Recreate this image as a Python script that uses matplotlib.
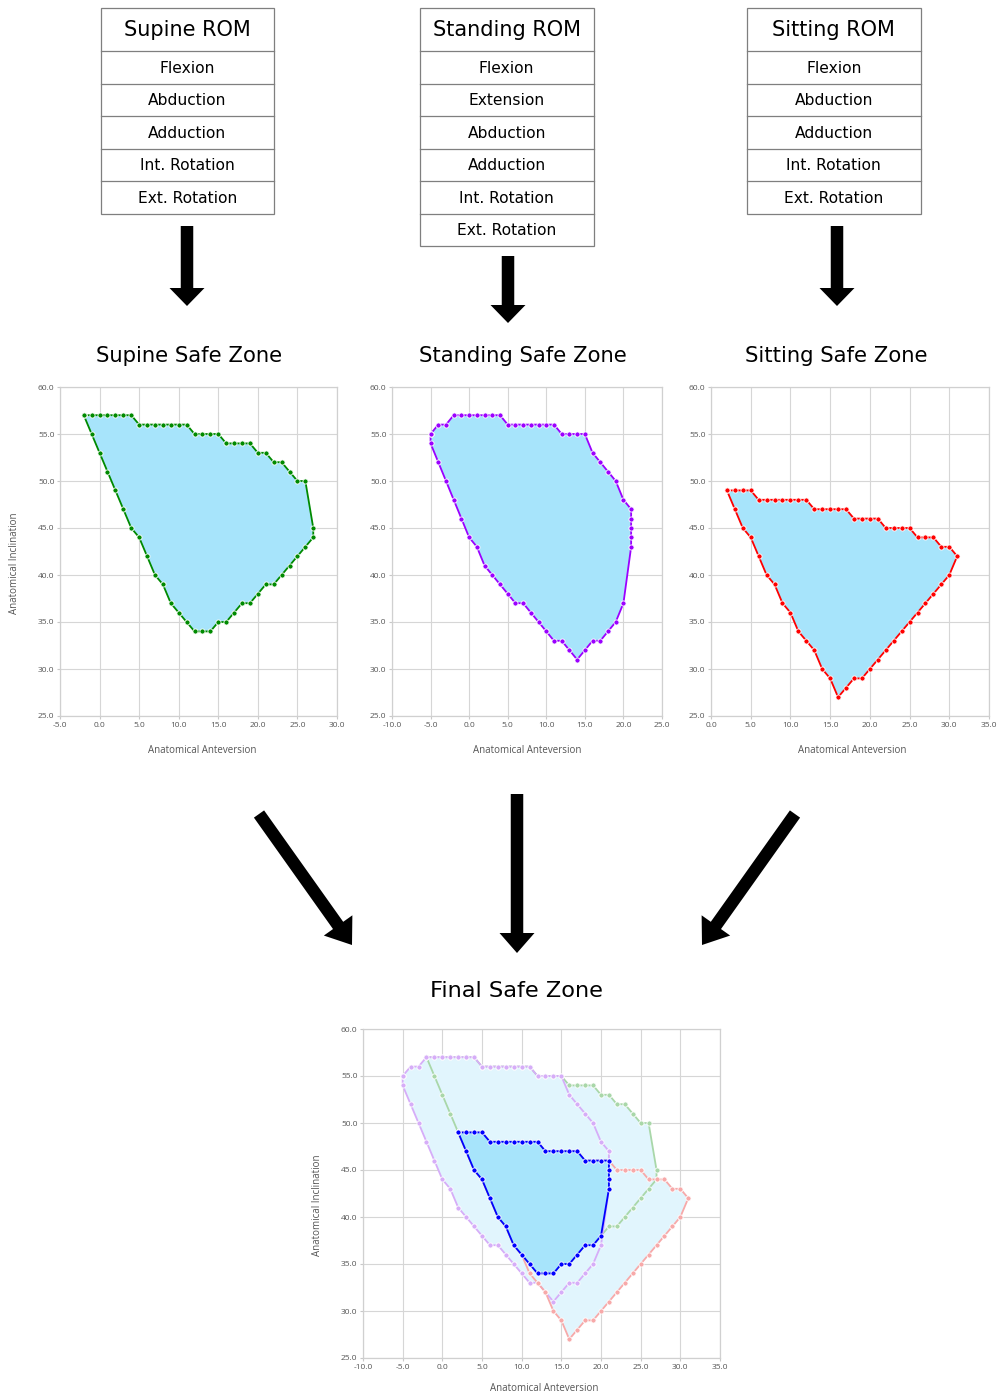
import matplotlib
matplotlib.use("Agg")
import matplotlib.pyplot as plt
from matplotlib.patches import Rectangle, FancyArrow, Polygon

# ROM tables
supine_rom = ["Flexion", "Abduction", "Adduction", "Int. Rotation", "Ext. Rotation"]
standing_rom = ["Flexion", "Extension", "Abduction", "Adduction", "Int. Rotation", "Ext. Rotation"]
sitting_rom = ["Flexion", "Abduction", "Adduction", "Int. Rotation", "Ext. Rotation"]

# safe zone outlines (anteversion, inclination)
supine_x = [-2, -1, 0, 1, 2, 3, 4, 5, 6, 7, 8, 9, 10, 11, 12, 13, 14, 15, 16, 17, 18, 19, 20, 21, 22, 23, 24, 25, 26, 27,
            27, 26, 25, 24, 23, 22, 21, 20, 19, 18, 17, 16, 15, 14, 13, 12, 11, 10, 9, 8, 7, 6, 5, 4, 3, 2, 1, 0, -1, -2]
supine_y = [57, 57, 57, 57, 57, 57, 57, 56, 56, 56, 56, 56, 56, 56, 55, 55, 55, 55, 54, 54, 54, 54, 53, 53, 52, 52, 51, 50, 50, 45,
            44, 43, 42, 41, 40, 39, 39, 38, 37, 37, 36, 35, 35, 34, 34, 34, 35, 36, 37, 39, 40, 42, 44, 45, 47, 49, 51, 53, 55, 57]

standing_x = [-5, -4, -3, -2, -1, 0, 1, 2, 3, 4, 5, 6, 7, 8, 9, 10, 11, 12, 13, 14, 15, 16, 17, 18, 19, 20, 21, 21, 21, 21, 21,
              20, 19, 18, 17, 16, 15, 14, 13, 12, 11, 10, 9, 8, 7, 6, 5, 4, 3, 2, 1, 0, -1, -2, -3, -4, -5, -5]
standing_y = [55, 56, 56, 57, 57, 57, 57, 57, 57, 57, 56, 56, 56, 56, 56, 56, 56, 55, 55, 55, 55, 53, 52, 51, 50, 48, 47, 46, 45, 44, 43,
              37, 35, 34, 33, 33, 32, 31, 32, 33, 33, 34, 35, 36, 37, 37, 38, 39, 40, 41, 43, 44, 46, 48, 50, 52, 54, 55]

sitting_x = [2, 3, 4, 5, 6, 7, 8, 9, 10, 11, 12, 13, 14, 15, 16, 17, 18, 19, 20, 21, 22, 23, 24, 25, 26, 27, 28, 29, 30, 31,
             30, 29, 28, 27, 26, 25, 24, 23, 22, 21, 20, 19, 18, 17, 16, 15, 14, 13, 12, 11, 10, 9, 8, 7, 6, 5, 4, 3, 2]
sitting_y = [49, 49, 49, 49, 48, 48, 48, 48, 48, 48, 48, 47, 47, 47, 47, 47, 46, 46, 46, 46, 45, 45, 45, 45, 44, 44, 44, 43, 43, 42,
             40, 39, 38, 37, 36, 35, 34, 33, 32, 31, 30, 29, 29, 28, 27, 29, 30, 32, 33, 34, 36, 37, 39, 40, 42, 44, 45, 47, 49]

final_x = [2, 3, 4, 5, 6, 7, 8, 9, 10, 11, 12, 13, 14, 15, 16, 17, 18, 19, 20, 21, 21, 21, 21,
           20, 19, 18, 17, 16, 15, 14, 13, 12, 11, 10, 9, 8, 7, 6, 5, 4, 3, 2]
final_y = [49, 49, 49, 49, 48, 48, 48, 48, 48, 48, 48, 47, 47, 47, 47, 47, 46, 46, 46, 46, 45, 44, 43,
           38, 37, 37, 36, 35, 35, 34, 34, 34, 35, 36, 37, 39, 40, 42, 44, 45, 47, 49]

FILL = "#a7e4fb"
FILL_LIGHT = "#e1f5fd"
W, H = 1000, 1397

fig = plt.figure(figsize=(10, 13.97), dpi=100)

# overlay in pixel coordinates for tables, arrows and titles
ov = fig.add_axes([0, 0, 1, 1])
ov.set_xlim(0, W)
ov.set_ylim(H, 0)
ov.axis("off")


def draw_table(x0, title, rows):
    w, head, rh, top = 173.5, 43, 32.5, 8
    total = head + rh * len(rows)
    ov.add_patch(Rectangle((x0, top), w, total, fc="white", ec="#7f7f7f", lw=0.9))
    ov.text(x0 + w / 2, top + head / 2 + 1, title, ha="center", va="center", fontsize=15)
    y = top + head
    for r in rows:
        ov.plot([x0, x0 + w], [y, y], color="#7f7f7f", lw=0.9)
        ov.text(x0 + w / 2, y + rh / 2 + 1, r, ha="center", va="center", fontsize=11.2)
        y += rh


def arrow(x, y, x2, y2, hl=18):
    ov.add_patch(FancyArrow(x, y, x2 - x, y2 - y, width=12.5, head_width=35, head_length=hl,
                            length_includes_head=True, color="black", lw=0))


draw_table(100.5, "Supine ROM", supine_rom)
draw_table(420, "Standing ROM", standing_rom)
draw_table(747, "Sitting ROM", sitting_rom)

arrow(187, 226, 187, 306)
arrow(508, 256, 508, 323)
arrow(837, 226, 837, 306)
arrow(259, 814, 352, 945, hl=24)
arrow(517, 794, 517, 953, hl=20)
arrow(795, 814, 702, 945, hl=24)

ov.text(189, 356, "Supine Safe Zone", ha="center", va="center", fontsize=15.2)
ov.text(523, 356, "Standing Safe Zone", ha="center", va="center", fontsize=15.2)
ov.text(836, 356, "Sitting Safe Zone", ha="center", va="center", fontsize=15.2)
ov.text(517, 991, "Final Safe Zone", ha="center", va="center", fontsize=16.2)


def make_axes(left, right, top, bottom, xmin, xmax, label_x, label_gap, ylabel_x=None):
    ax = fig.add_axes([left / W, 1 - bottom / H, (right - left) / W, (bottom - top) / H])
    ax.set_xlim(xmin, xmax)
    ax.set_ylim(25, 60)
    ax.set_xticks(range(xmin, xmax + 1, 5))
    ax.set_yticks(range(25, 61, 5))
    ax.set_xticklabels(["%.1f" % v for v in range(xmin, xmax + 1, 5)])
    ax.set_yticklabels(["%.1f" % v for v in range(25, 61, 5)])
    ax.grid(True, color="#d6d6d6", lw=0.8)
    ax.set_axisbelow(True)
    for s in ax.spines.values():
        s.set_color("#d0d0d0")
        s.set_linewidth(0.9)
    ax.tick_params(length=2.5, width=0.8, color="#c8c8c8", labelsize=6, labelcolor="#555555", pad=1.5)
    for t in ax.get_xticklabels() + ax.get_yticklabels():
        t.set_fontfamily("Open Sans")
    ax.set_xlabel("Anatomical Anteversion", fontsize=7, color="#555555", fontfamily="Open Sans")
    ax.xaxis.set_label_coords((label_x - left) / (right - left), -label_gap / (bottom - top))
    if ylabel_x is not None:
        ax.set_ylabel("Anatomical Inclination", fontsize=7, color="#555555", fontfamily="Open Sans")
        ax.yaxis.set_label_coords(-(left - ylabel_x - 5) / (right - left), 0.5 - 12 / (bottom - top))
    return ax


def zone(ax, xs, ys, color, fill, z=2, mec="white"):
    ax.add_patch(Polygon(list(zip(xs, ys)), closed=True, fc=fill, ec="none", zorder=z))
    ax.plot(xs + xs[:1], ys + ys[:1], color=color, lw=1.3, marker="o", ms=3.7,
            mfc=color, mec=mec, mew=0.6, zorder=z + 1)


ax1 = make_axes(60, 337, 387, 716, -5, 30, 202.5, 29, ylabel_x=15)
zone(ax1, supine_x, supine_y, "#008a00", FILL)

ax2 = make_axes(392, 662, 387, 716, -10, 25, 527, 29)
zone(ax2, standing_x, standing_y, "#9b00ff", FILL)

ax3 = make_axes(711, 989, 387, 716, 0, 35, 852, 29)
zone(ax3, sitting_x, sitting_y, "#ff0000", FILL)

ax4 = make_axes(363, 720, 1029, 1358, -10, 35, 544, 25, ylabel_x=318)
for xs, ys in [(supine_x, supine_y), (standing_x, standing_y), (sitting_x, sitting_y)]:
    ax4.add_patch(Polygon(list(zip(xs, ys)), closed=True, fc=FILL_LIGHT, ec="none", zorder=1))
for xs, ys, c in [(supine_x, supine_y, "#a9d7a9"), (standing_x, standing_y, "#d6adf8"),
                  (sitting_x, sitting_y, "#f7a9a9")]:
    ax4.plot(xs + xs[:1], ys + ys[:1], color=c, lw=1.3, marker="o", ms=3.7,
             mfc=c, mec="white", mew=0.6, zorder=2)
zone(ax4, final_x, final_y, "#0000ff", FILL, z=3)

fig.savefig("out.png", dpi=100)
